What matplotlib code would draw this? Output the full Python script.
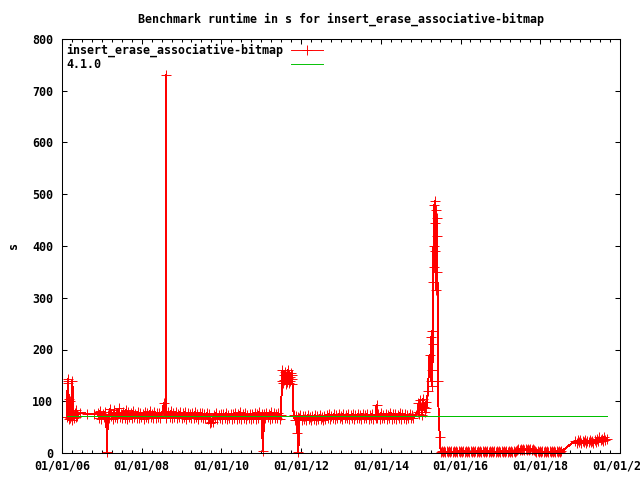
import numpy as np
import pandas as pd
import matplotlib
matplotlib.use('Agg')
import matplotlib.pyplot as plt
import matplotlib.dates as mdates

# runtime samples (decimal year, seconds)
early_years = [2006.13, 2006.14, 2006.15, 2006.16, 2006.17, 2006.18, 2006.19, 2006.20, 2006.22, 2006.24,
               2006.26, 2006.28, 2006.30, 2006.32, 2006.34, 2006.36, 2006.38, 2006.45, 2006.62, 2006.80]
early_vals = [70, 140, 136, 143, 66, 104, 68, 100, 72, 64,
              140, 82, 68, 78, 70, 84, 72, 78, 76, 75]

band_a_years = [
    2006.90, 2006.93, 2006.96, 2006.99, 2007.02, 2007.05, 2007.08, 2007.11, 2007.13, 2007.15,
    2007.18, 2007.21, 2007.24, 2007.27, 2007.30, 2007.33, 2007.36, 2007.39, 2007.42, 2007.45,
    2007.48, 2007.51, 2007.54, 2007.57, 2007.60, 2007.63, 2007.66, 2007.69, 2007.72, 2007.75,
    2007.78, 2007.81, 2007.84, 2007.87, 2007.90, 2007.93, 2007.96, 2007.99, 2008.02, 2008.05,
    2008.08, 2008.11, 2008.14, 2008.17, 2008.20, 2008.23, 2008.26, 2008.29, 2008.32, 2008.35,
    2008.38, 2008.41, 2008.44, 2008.47, 2008.50, 2008.53, 2008.55, 2008.60, 2008.61, 2008.62,
    2008.67, 2008.70, 2008.73, 2008.76, 2008.79, 2008.82, 2008.85, 2008.88, 2008.91, 2008.94,
    2008.97, 2009.00, 2009.03, 2009.06, 2009.09, 2009.12, 2009.15, 2009.18, 2009.21, 2009.24,
    2009.27, 2009.30, 2009.33, 2009.36, 2009.39, 2009.42, 2009.45, 2009.48, 2009.51, 2009.54,
    2009.57, 2009.60, 2009.63, 2009.66, 2009.69, 2009.72, 2009.75, 2009.78, 2009.81, 2009.84,
    2009.87, 2009.90, 2009.93, 2009.96, 2009.99, 2010.02, 2010.05, 2010.08, 2010.11, 2010.14,
    2010.17, 2010.20, 2010.23, 2010.26, 2010.29, 2010.32, 2010.35, 2010.38, 2010.41, 2010.44,
    2010.47, 2010.50, 2010.53, 2010.56, 2010.59, 2010.62, 2010.65, 2010.68, 2010.71, 2010.74,
    2010.77, 2010.80, 2010.83, 2010.86, 2010.89, 2010.92, 2010.95, 2010.98, 2011.01, 2011.04,
    2011.07, 2011.10, 2011.13, 2011.16, 2011.19, 2011.22, 2011.25, 2011.28, 2011.31, 2011.34,
    2011.37, 2011.40, 2011.43, 2011.46, 2011.49,
]
band_a_vals = [
    78, 68, 82, 66, 76, 70, 80, 67, 2, 74,
    67, 85, 72, 66, 83, 70, 78, 67, 86, 69,
    76, 67, 80, 68, 84, 66, 79, 70, 77, 67,
    81, 69, 76, 68, 80, 67, 78, 70, 75, 66,
    79, 70, 77, 67, 81, 69, 76, 68, 80, 67,
    78, 69, 77, 68, 79, 78, 96, 70, 730, 68,
    79, 70, 81, 67, 77, 69, 80, 68, 76, 70,
    79, 67, 78, 69, 80, 66, 77, 70, 76, 68,
    78, 67, 79, 69, 76, 66, 78, 70, 77, 67,
    76, 68, 77, 66, 75, 58, 60, 59, 74, 67,
    77, 66, 74, 68, 76, 66, 75, 67, 77, 66,
    74, 68, 76, 65, 75, 67, 78, 66, 76, 68,
    79, 66, 75, 67, 77, 66, 74, 68, 76, 65,
    75, 67, 78, 66, 76, 68, 79, 66, 75, 3,
    75, 67, 78, 70, 76, 66, 80, 68, 77, 67,
    76, 68, 78, 66, 74,
]

bump_years = [2011.52, 2011.53, 2011.55, 2011.56, 2011.58, 2011.59, 2011.61, 2011.62, 2011.64, 2011.65,
              2011.67, 2011.68, 2011.70, 2011.71, 2011.73, 2011.74, 2011.76, 2011.77, 2011.78]
bump_vals = [140, 160, 135, 150, 142, 156, 133, 148, 138, 152,
             145, 161, 136, 147, 140, 155, 134, 150, 143]

band_b_years = [
    2011.81, 2011.84, 2011.87, 2011.90, 2011.92, 2011.93, 2011.95, 2011.98, 2012.01, 2012.04,
    2012.07, 2012.10, 2012.13, 2012.16, 2012.19, 2012.22, 2012.25, 2012.28, 2012.31, 2012.34,
    2012.37, 2012.40, 2012.43, 2012.46, 2012.49, 2012.52, 2012.55, 2012.58, 2012.61, 2012.64,
    2012.67, 2012.70, 2012.73, 2012.76, 2012.79, 2012.82, 2012.85, 2012.88, 2012.91, 2012.94,
    2012.97, 2013.00, 2013.03, 2013.06, 2013.09, 2013.12, 2013.15, 2013.18, 2013.21, 2013.24,
    2013.27, 2013.30, 2013.33, 2013.36, 2013.39, 2013.42, 2013.45, 2013.48, 2013.51, 2013.54,
    2013.57, 2013.60, 2013.63, 2013.66, 2013.69, 2013.72, 2013.75, 2013.78, 2013.81, 2013.84,
    2013.87, 2013.89, 2013.91, 2013.94, 2013.97, 2014.00, 2014.03, 2014.06, 2014.09, 2014.12,
    2014.15, 2014.18, 2014.21, 2014.24, 2014.27, 2014.30, 2014.33, 2014.36, 2014.39, 2014.42,
    2014.45, 2014.48, 2014.51, 2014.54, 2014.57, 2014.60, 2014.63, 2014.66, 2014.69, 2014.72,
    2014.75, 2014.78, 2014.81,
]
band_b_vals = [
    74, 64, 72, 38, 70, 2, 68, 74, 63, 72,
    65, 71, 63, 73, 66, 70, 64, 72, 66, 74,
    63, 71, 65, 73, 66, 70, 64, 72, 66, 74,
    67, 75, 66, 72, 68, 76, 66, 73, 67, 75,
    68, 72, 66, 76, 67, 74, 68, 75, 66, 73,
    68, 76, 66, 74, 67, 75, 68, 73, 66, 76,
    67, 74, 68, 75, 66, 73, 68, 76, 66, 74,
    67, 93, 68, 75, 66, 77, 67, 74, 68, 76,
    66, 73, 67, 78, 66, 75, 68, 76, 66, 74,
    67, 77, 66, 75, 68, 76, 66, 74, 67, 75,
    68, 74, 67,
]

spike_years = [
    2014.92, 2014.94, 2014.96, 2014.98, 2015.00, 2015.02, 2015.04, 2015.06, 2015.08, 2015.10,
    2015.12, 2015.14, 2015.18, 2015.22, 2015.25, 2015.26, 2015.27, 2015.28, 2015.29, 2015.30,
    2015.31, 2015.32, 2015.33, 2015.34, 2015.35, 2015.36, 2015.37, 2015.38, 2015.39, 2015.40,
    2015.41, 2015.42, 2015.43, 2015.45, 2015.48, 2015.50,
]
spike_vals = [
    80, 96, 76, 102, 84, 92, 74, 105, 88, 79,
    98, 86, 120, 190, 140, 225, 160, 235, 130, 210,
    330, 400, 480, 360, 445, 487, 390, 470, 315, 420,
    455, 350, 140, 72, 31, 2,
]

low_years = [
    2015.53, 2015.56, 2015.59, 2015.62, 2015.65, 2015.68, 2015.71, 2015.74, 2015.77, 2015.80,
    2015.83, 2015.86, 2015.89, 2015.92, 2015.95, 2015.98, 2016.01, 2016.04, 2016.07, 2016.10,
    2016.13, 2016.16, 2016.19, 2016.22, 2016.25, 2016.28, 2016.31, 2016.34, 2016.37, 2016.40,
    2016.43, 2016.46, 2016.49, 2016.52, 2016.55, 2016.58, 2016.61, 2016.64, 2016.67, 2016.70,
    2016.73, 2016.76, 2016.79, 2016.82, 2016.85, 2016.88, 2016.91, 2016.94, 2016.97, 2017.00,
    2017.03, 2017.06, 2017.09, 2017.12, 2017.15, 2017.18, 2017.21, 2017.24, 2017.27, 2017.30,
    2017.33, 2017.36, 2017.39, 2017.42, 2017.45, 2017.48, 2017.51, 2017.54, 2017.57, 2017.60,
    2017.63, 2017.66, 2017.69, 2017.72, 2017.75, 2017.78, 2017.81, 2017.84, 2017.87, 2017.90,
    2017.93, 2017.96, 2017.99, 2018.02, 2018.05, 2018.08, 2018.11, 2018.14, 2018.17, 2018.20,
    2018.23, 2018.26, 2018.29, 2018.32, 2018.35, 2018.38, 2018.41, 2018.44, 2018.47, 2018.50,
    2018.53,
]
low_vals = [
    3, 1, 4, 2, 3, 1, 4, 2, 3, 1,
    4, 2, 3, 1, 4, 2, 3, 2, 4, 1,
    3, 2, 4, 1, 3, 2, 4, 1, 3, 2,
    4, 1, 3, 2, 4, 2, 3, 1, 4, 2,
    3, 1, 4, 2, 3, 2, 4, 1, 3, 2,
    4, 1, 3, 2, 4, 2, 3, 1, 4, 2,
    3, 2, 4, 6, 8, 5, 7, 6, 8, 5,
    7, 6, 8, 5, 7, 6, 8, 5, 3, 2,
    4, 1, 3, 2, 4, 1, 3, 2, 4, 1,
    3, 2, 4, 1, 3, 2, 4, 1, 3, 2,
    3,
]

tail_years = [2018.88, 2018.91, 2018.94, 2018.97, 2019.00, 2019.03, 2019.06, 2019.09, 2019.12, 2019.15,
              2019.18, 2019.21, 2019.24, 2019.27, 2019.30, 2019.33, 2019.36, 2019.39, 2019.42, 2019.45,
              2019.48, 2019.51, 2019.54, 2019.57, 2019.60, 2019.63, 2019.66]
tail_vals = [24, 20, 26, 21, 25, 19, 24, 22, 26, 20,
             23, 21, 25, 22, 24, 20, 26, 22, 27, 24,
             30, 25, 28, 24, 31, 26, 28]

# reference release 4.1.0
ref_years = [2006.13, 2019.66]
ref_vals = [71, 71]


def to_dates(years):
    years = np.asarray(years, dtype=float)
    return pd.Timestamp('2006-01-01') + pd.to_timedelta((years - 2006) * 365.25, unit='D')


run_years = early_years + band_a_years + bump_years + band_b_years + spike_years + low_years + tail_years
run_vals = early_vals + band_a_vals + bump_vals + band_b_vals + spike_vals + low_vals + tail_vals

plt.rcParams['font.family'] = 'DejaVu Sans Mono'
plt.rcParams['font.weight'] = 'bold'
plt.rcParams['font.size'] = 8.4

fig = plt.figure(figsize=(6.4, 4.8), dpi=100)
ax = fig.add_axes([62 / 640, 27 / 480, 558 / 640, 414 / 480])

# gnuplot png output is not antialiased, so the dense runs read as a solid band
ax.plot(to_dates(run_years), run_vals, color='#ff0000', lw=0.68, marker='+',
        markersize=6.5, markeredgewidth=0.68, clip_on=False, antialiased=False,
        label='insert_erase_associative-bitmap')
ax.plot(to_dates(ref_years), ref_vals, color='#00c000', lw=0.68, antialiased=False,
        label='4.1.0')

ax.set_xlim(pd.Timestamp('2006-01-01'), pd.Timestamp('2020-01-01'))
ax.set_ylim(0, 800)
ax.set_yticks(range(0, 801, 100))
ax.xaxis.set_major_locator(mdates.YearLocator(2))
ax.xaxis.set_major_formatter(mdates.DateFormatter('%m/%d/%y'))
ax.xaxis.set_minor_locator(mdates.MonthLocator(bymonth=[1, 4, 7, 10]))

ax.tick_params(which='both', direction='in', top=True, right=True, width=0.75)
ax.tick_params(which='major', length=3.8)
ax.tick_params(which='minor', length=2.2)
ax.tick_params(axis='y', pad=6.5)
ax.tick_params(axis='x', pad=5)
for s in ax.spines.values():
    s.set_linewidth(0.75)

leg = ax.legend(loc='upper left', bbox_to_anchor=(66 / 640, 1 - 44 / 480),
                bbox_transform=fig.transFigure, frameon=False, markerfirst=False,
                handlelength=2.75, handletextpad=0.7, labelspacing=0.05,
                borderpad=0, borderaxespad=0)

fig.text(341 / 640, 1 - 19 / 480, 'Benchmark runtime in s for insert_erase_associative-bitmap',
         ha='center', va='center')
fig.text(14 / 640, 1 - 246 / 480, 's', rotation=90, ha='center', va='center')

# gnuplot keeps key text left-aligned with samples in one column on the right
fig.canvas.draw()
renderer = fig.canvas.get_renderer()
texts = leg.get_texts()
dw = texts[0].get_window_extent(renderer).width - texts[1].get_window_extent(renderer).width
rows = leg._legend_handle_box.get_children()[0].get_children()
rows[1].sep += dw * 72 / fig.dpi

fig.savefig('out.png', dpi=100)
